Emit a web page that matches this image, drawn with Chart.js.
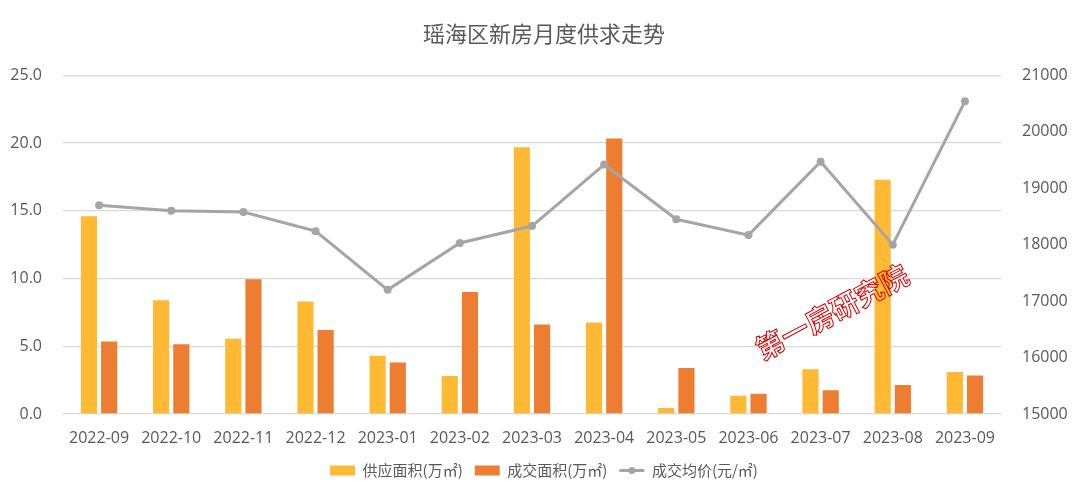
<!DOCTYPE html>
<html>
<head>
<meta charset="utf-8">
<script src="https://cdn.jsdelivr.net/npm/chart.js@4"></script>
<style>
  html, body { margin: 0; padding: 0; background: #fff; }
  #wrap { width: 1080px; height: 494px; }
</style>
</head>
<body>
<div id="wrap"><canvas id="c"></canvas></div>
<script>
// 数据
const months = ['2022-09', '2022-10', '2022-11', '2022-12', '2023-01', '2023-02', '2023-03',
  '2023-04', '2023-05', '2023-06', '2023-07', '2023-08', '2023-09'];
const supplyArea = [14.6, 8.4, 5.55, 8.3, 4.3, 2.8, 19.7, 6.75, 0.45, 1.35, 3.3, 17.3, 3.1]; // 供应面积
const dealArea = [5.35, 5.15, 9.95, 6.2, 3.8, 9.0, 6.6, 20.35, 3.4, 1.5, 1.75, 2.15, 2.85]; // 成交面积
const avgPrice = [18700, 18600, 18580, 18240, 17200, 18030, 18330, 19420, 18450, 18170, 19470, 18000, 20540]; // 成交均价
const leftTicks = [0, 5, 10, 15, 20, 25];
const rightTicks = [15000, 16000, 17000, 18000, 19000, 20000, 21000];

const FONT = "'Open Sans','Noto Sans CJK SC',sans-serif";
const GREY = '#595959';

// 水印 + 图例里折线的圆点
const extras = {
  id: 'extras',
  afterDraw(chart) {
    const ctx = chart.ctx;
    const lg = chart.legend;
    const item = lg && lg.legendItems ? lg.legendItems.findIndex(it => it.datasetIndex === 0) : -1;
    if (item >= 0 && lg.legendHitBoxes[item]) {
      const hb = lg.legendHitBoxes[item];
      ctx.save();
      ctx.fillStyle = '#a5a5a5';
      ctx.beginPath();
      ctx.arc(hb.left + 12.5, hb.top + hb.height / 2, 3.5, 0, Math.PI * 2);
      ctx.fill();
      ctx.restore();
    }
    ctx.save();
    ctx.translate(832, 312);
    ctx.rotate(-28 * Math.PI / 180);
    ctx.font = "bold 28px 'Noto Sans CJK SC'";
    ctx.textAlign = 'center';
    ctx.textBaseline = 'middle';
    ctx.strokeStyle = '#d40000';
    ctx.lineWidth = 1;
    ctx.strokeText('第一房研究院', 0, 0);
    ctx.restore();
  }
};

new Chart(document.getElementById('c'), {
  data: {
    labels: months,
    datasets: [
      {
        type: 'line',
        label: '成交均价(元/㎡)',
        data: avgPrice,
        yAxisID: 'y1',
        borderColor: '#a5a5a5',
        backgroundColor: '#a5a5a5',
        borderWidth: 3,
        pointRadius: 4,
        pointBackgroundColor: '#a5a5a5',
        pointBorderWidth: 0,
        tension: 0,
        order: 0,
      },
      {
        type: 'bar',
        label: '供应面积(万㎡)',
        data: supplyArea,
        yAxisID: 'y',
        backgroundColor: '#ffb933',
        order: 1,
      },
      {
        type: 'bar',
        label: '成交面积(万㎡)',
        data: dealArea,
        yAxisID: 'y',
        backgroundColor: '#ed7d31',
        order: 1,
      },
    ],
  },
  options: {
    responsive: true,
    maintainAspectRatio: false,
    animation: false,
    categoryPercentage: 0.56,
    barPercentage: 0.8,
    layout: { padding: { left: 8, right: 0, top: 12, bottom: 6 } },
    scales: {
      x: {
        grid: { display: false, drawTicks: false },
        border: { display: false },
        afterFit: (axis) => { axis.height = 37; },
        ticks: { color: GREY, font: { family: FONT, size: 16 }, maxRotation: 0, padding: 15 },
      },
      y: {
        position: 'left',
        min: 0,
        max: 25,
        afterBuildTicks: (axis) => { axis.ticks = leftTicks.map(v => ({ value: v })); },
        afterFit: (axis) => { axis.width = 55; },
        grid: { color: '#d9d9d9', lineWidth: 1.3, drawTicks: false },
        border: { display: false },
        ticks: {
          color: GREY,
          font: { family: FONT, size: 16 },
          padding: 21,
          callback: (v) => Number(v).toFixed(1),
        },
      },
      y1: {
        position: 'right',
        min: 15000,
        max: 21000,
        afterBuildTicks: (axis) => { axis.ticks = rightTicks.map(v => ({ value: v })); },
        afterFit: (axis) => { axis.width = 79; },
        grid: { display: false, drawTicks: false },
        border: { display: false },
        ticks: { color: GREY, font: { family: FONT, size: 16 }, padding: 21, callback: (v) => String(v) },
      },
    },
    plugins: {
      title: {
        display: true,
        text: '瑶海区新房月度供求走势',
        color: GREY,
        font: { family: "'Noto Sans CJK SC'", size: 22, weight: 'normal' },
        padding: { top: 8, bottom: 29 },
      },
      legend: {
        position: 'bottom',
        labels: {
          color: GREY,
          font: { family: "'Noto Sans CJK SC'", size: 15 },
          usePointStyle: true,
          pointStyleWidth: 25,
          boxHeight: 10,
          padding: 12,
          generateLabels: (chart) => {
            const items = Chart.defaults.plugins.legend.labels.generateLabels(chart);
            items.forEach(it => {
              if (it.datasetIndex === 0) {
                it.pointStyle = 'line';
                it.lineWidth = 3;
                it.strokeStyle = '#a5a5a5';
              } else {
                it.pointStyle = 'rect';
                it.lineWidth = 0;
              }
            });
            return items;
          },
          sort: (a, b) => (a.datasetIndex === 0 ? 1 : 0) - (b.datasetIndex === 0 ? 1 : 0),
        },
      },
      tooltip: { enabled: false },
    },
  },
  plugins: [extras],
});
</script>
</body>
</html>
